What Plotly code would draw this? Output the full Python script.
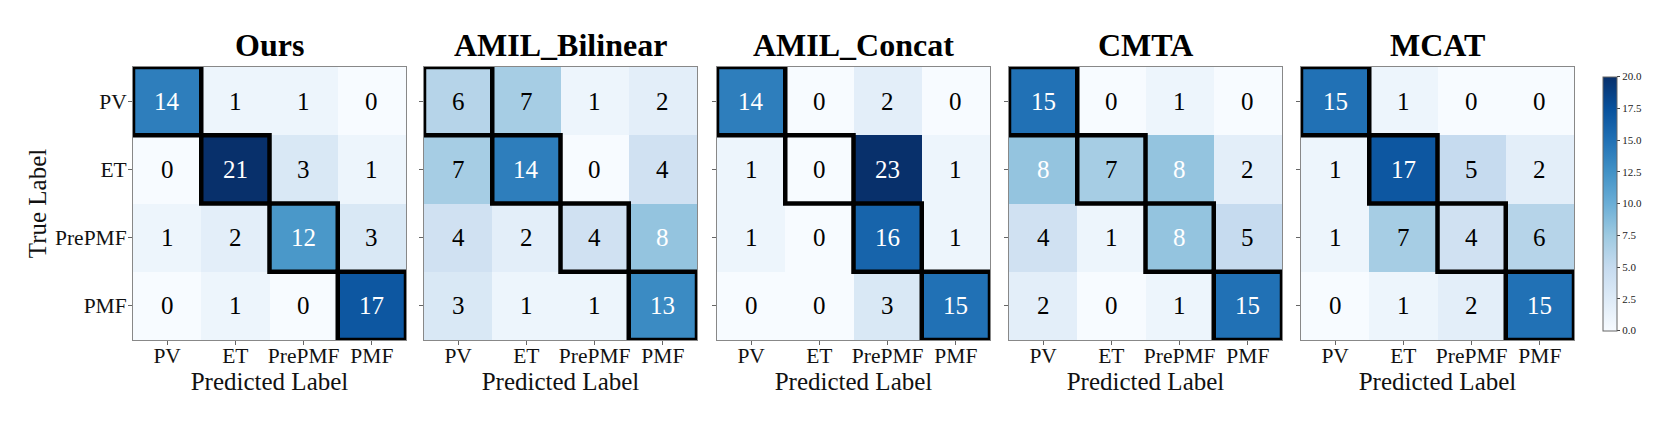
import plotly.graph_objects as go

labels = ["PV", "ET", "PrePMF", "PMF"]
titles = ["Ours", "AMIL_Bilinear", "AMIL_Concat", "CMTA", "MCAT"]

ours = [[14, 1, 1, 0], [0, 21, 3, 1], [1, 2, 12, 3], [0, 1, 0, 17]]
amil_bilinear = [[6, 7, 1, 2], [7, 14, 0, 4], [4, 2, 4, 8], [3, 1, 1, 13]]
amil_concat = [[14, 0, 2, 0], [1, 0, 23, 1], [1, 0, 16, 1], [0, 0, 3, 15]]
cmta = [[15, 0, 1, 0], [8, 7, 8, 2], [4, 1, 8, 5], [2, 0, 1, 15]]
mcat = [[15, 1, 0, 0], [1, 17, 5, 2], [1, 7, 4, 6], [0, 1, 2, 15]]
matrices = [ours, amil_bilinear, amil_concat, cmta, mcat]

cb_ticks = [0.0, 2.5, 5.0, 7.5, 10.0, 12.5, 15.0, 17.5, 20.0]

blues = ["#f7fbff", "#deebf7", "#c6dbef", "#9ecae1", "#6baed6",
         "#4292c6", "#2171b5", "#08519c", "#08306b"]
colorscale = [[i / 8, c] for i, c in enumerate(blues)]

W, H = 1660, 422
lefts = [133, 424, 717, 1009, 1301]
pw = 273
top_px, bot_px = 67, 340
serif = "Liberation Serif"

fig = go.Figure()
annotations = []
shapes = []
n = len(labels)
idx = list(range(n))

for k, (mat, title) in enumerate(zip(matrices, titles)):
    sfx = "" if k == 0 else str(k + 1)
    xa, ya = "x" + sfx, "y" + sfx
    fig.add_trace(go.Heatmap(
        z=mat, x=idx, y=idx, colorscale=colorscale, zmin=0, zmax=20,
        xaxis=xa, yaxis=ya, showscale=(k == 4), xgap=0, ygap=0,
        hoverinfo="z",
        colorbar=dict(
            x=1593 / W, xanchor="left", y=1 - (top_px + bot_px) / 2 / H,
            yanchor="middle", len=(bot_px - top_px + 1) / H, lenmode="fraction",
            thickness=14, outlinecolor="#666", outlinewidth=1,
            tickvals=cb_ticks, ticktext=[f"{v:.1f}" for v in cb_ticks],
            ticks="outside", ticklen=3, tickcolor="#444",
            tickfont=dict(family=serif, size=11, color="#222"),
        ),
    ))
    x0, x1 = lefts[k] / W, (lefts[k] + pw) / W
    axcommon = dict(showline=True, mirror=True, linecolor="#888", linewidth=1,
                    ticks="outside", ticklen=4, tickcolor="#666", showgrid=False,
                    zeroline=False, tickvals=idx, ticktext=labels,
                    tickfont=dict(family=serif, size=21.5, color="#111"))
    fig.layout["xaxis" + sfx] = dict(
        domain=[x0, x1], anchor=ya, range=[-0.5, n - 0.5],
        ticklabelstandoff=-8,
        title=dict(text="Predicted Label", standoff=0,
                   font=dict(family=serif, size=25, color="#111")),
        **axcommon)
    fig.layout["yaxis" + sfx] = dict(
        domain=[1 - bot_px / H, 1 - top_px / H], anchor=xa, range=[n - 0.5, -0.5],
        ticklabelstandoff=-3,
        title=dict(text="True Label" if k == 0 else "", standoff=1,
                   font=dict(family=serif, size=25, color="#111")),
        showticklabels=(k == 0),
        **axcommon)
    annotations.append(dict(
        text="<b>" + title + "</b>", x=(x0 + x1) / 2, y=1 - 45 / H,
        xref="paper", yref="paper", showarrow=False, xanchor="center", yanchor="middle",
        font=dict(family=serif, size=32, color="#000")))
    thresh = max(max(r) for r in mat) / 2
    for i in range(n):
        for j in range(n):
            v = mat[i][j]
            annotations.append(dict(
                text=str(v), x=j, y=i, xref=xa, yref=ya, showarrow=False,
                font=dict(family=serif, size=25,
                          color="white" if v > thresh else "black")))
        shapes.append(dict(type="rect", xref=xa, yref=ya,
                           x0=i - 0.5, x1=i + 0.5, y0=i - 0.5, y1=i + 0.5,
                           line=dict(color="black", width=4.5), layer="above"))

fig.update_layout(
    width=W, height=H, margin=dict(l=0, r=0, t=0, b=0),
    paper_bgcolor="white", plot_bgcolor="white",
    annotations=annotations, shapes=shapes, showlegend=False,
)
fig.write_html("out.html", config={"displayModeBar": False},
               post_script="document.body.style.margin='0';")
